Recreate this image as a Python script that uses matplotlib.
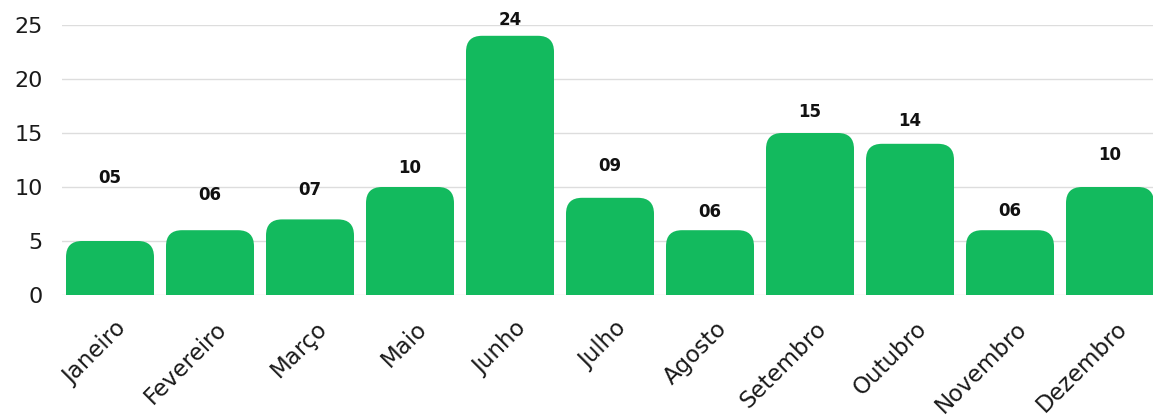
import matplotlib.pyplot as plt
import matplotlib.transforms as mtransforms
from matplotlib.patches import FancyBboxPatch

# months and counts
meses = ['Janeiro', 'Fevereiro', 'Março', 'Maio', 'Junho', 'Julho',
         'Agosto', 'Setembro', 'Outubro', 'Novembro', 'Dezembro']
valores = [5, 6, 7, 10, 24, 9, 6, 15, 14, 6, 10]
rotulos = ['05', '06', '07', '10', '24', '09', '06', '15', '14', '06', '10']
# how far above each bar the value label sits (as in the original)
label_gap = [5.8, 3.3, 2.7, 1.8, 1.5, 2.9, 1.7, 1.9, 2.1, 1.8, 3.0]

verde = '#13BA5E'

W, H = 1153, 417
fig = plt.figure(figsize=(W / 100, H / 100), dpi=100)
ax = fig.add_axes([62 / W, 122 / H, 1091 / W, 270 / H])

bars = ax.bar(range(len(meses)), valores, width=0.88, color=verde)
ax.set_xlim(-0.48, 10.43)
ax.set_ylim(0, 25)

# rounded tops: swap each bar for a rounded box + square bottom
aspect = (25 / 270) / (10.91 / 1091)
for b in bars:
    x, w, h = b.get_x(), b.get_width(), b.get_height()
    b.set_visible(False)
    p = FancyBboxPatch((x, 0), w, h, boxstyle='round,pad=0,rounding_size=0.16',
                       mutation_aspect=aspect, fc=verde, ec='none', zorder=2)
    ax.add_patch(p)
    ax.add_patch(plt.Rectangle((x, 0), w, min(h, 2), fc=verde, ec='none', zorder=2))

for i, (v, t) in enumerate(zip(valores, rotulos)):
    ax.text(i, v + label_gap[i], t, ha='center', va='center',
            fontsize=12, fontweight='bold', color='#111111')

ax.set_yticks([0, 5, 10, 15, 20, 25])
ax.set_xticks(range(len(meses)))
ax.set_xticklabels(meses, rotation=45, ha='right', va='top',
                   rotation_mode='anchor', fontsize=16.5, color='#1a1a1a')
ax.tick_params(axis='y', labelsize=16, length=0, pad=14, labelcolor='#1a1a1a')
ax.tick_params(axis='x', length=0, pad=16)
shift = mtransforms.ScaledTranslation(5 / 100, 0, fig.dpi_scale_trans)
for lab in ax.get_xticklabels():
    lab.set_transform(lab.get_transform() + shift)
ax.grid(axis='y', color='#dddddd', lw=1)
ax.set_axisbelow(True)
for s in ax.spines.values():
    s.set_visible(False)

fig.savefig('out.png', dpi=100)
